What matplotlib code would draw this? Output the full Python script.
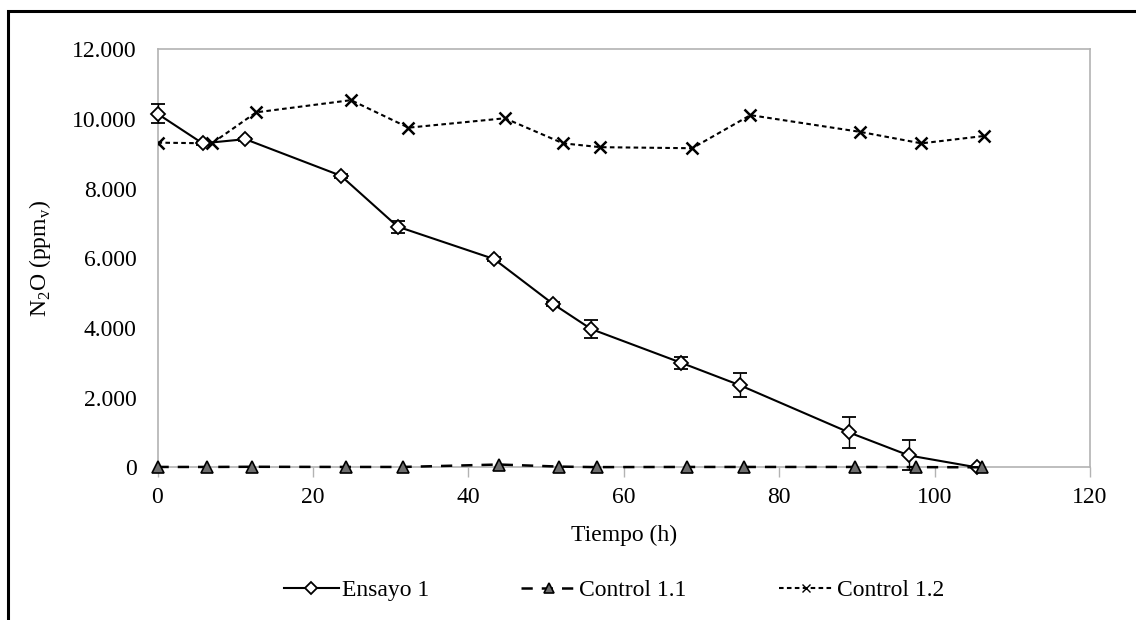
import matplotlib
matplotlib.use("Agg")
import matplotlib.pyplot as plt
from matplotlib.ticker import FuncFormatter, MultipleLocator
from matplotlib.patches import Rectangle
from matplotlib.lines import Line2D

plt.rcParams['font.family'] = ['Liberation Serif', 'DejaVu Serif']
plt.rcParams['mathtext.fontset'] = 'custom'
plt.rcParams['mathtext.rm'] = 'Liberation Serif'

# ---------------- data ----------------
ensayo_t = [0, 5.8, 11.3, 23.6, 30.9, 43.3, 50.9, 55.8, 67.4, 74.9, 89.0, 96.7, 105.4]
ensayo_y = [10150, 9300, 9420, 8370, 6910, 5980, 4690, 3970, 3000, 2360, 1000, 340, 0]
ensayo_err = [270, 40, 40, 60, 170, 60, 60, 260, 170, 355, 455, 430, 0]

ctrl11_t = [0, 6.4, 12.2, 24.3, 31.6, 43.9, 51.7, 56.5, 68.1, 75.5, 89.8, 97.6, 106.1]
ctrl11_y = [10, 10, 15, 10, 10, 80, 20, 5, 10, 10, 10, 5, 0]

ctrl12_t = [0, 7.0, 12.7, 24.9, 32.3, 44.7, 52.2, 57.0, 68.8, 76.3, 90.4, 98.3, 106.3]
ctrl12_y = [9320, 9300, 10190, 10540, 9750, 10020, 9300, 9190, 9160, 10110, 9630, 9300, 9510]

W, H = 1136, 620
fig = plt.figure(figsize=(W / 100, H / 100), dpi=100)
ax = fig.add_axes([157.5 / W, 1 - 467.3 / H, (1090 - 157.5) / W, (467.3 - 49.3) / H])

# outer frame (only top/left visible in the original crop)
fig.patches.append(Rectangle((8 / W, -0.2), 1.2, 1.2 - 11 / H,
                             transform=fig.transFigure, fill=False,
                             edgecolor='black', linewidth=2.2))

# --- styles ---
ens_style = dict(color='black', lw=1.5, ls='-', marker='D', mfc='white',
                 mec='black', mew=1.3)
c11_style = dict(color='black', lw=1.8, ls=(0, (4.5, 3.6)), marker='^',
                 mfc='#6e6e6e', mec='black', mew=1.2)
c12_style = dict(color='black', lw=1.5, ls=(0, (2.2, 1.6)), marker='x',
                 mew=1.8)

ax.errorbar(ensayo_t, ensayo_y, yerr=ensayo_err, ms=7, ecolor='black',
            elinewidth=1, capsize=5, capthick=1, zorder=3, clip_on=False,
            **ens_style)
ax.plot(ctrl11_t, ctrl11_y, ms=8, zorder=4, clip_on=False, **c11_style)
ax.plot(ctrl12_t, ctrl12_y, ms=9, zorder=3, **c12_style)

ax.set_xlim(0, 120)
ax.set_ylim(0, 12000)
ax.xaxis.set_major_locator(MultipleLocator(20))
ax.yaxis.set_major_locator(MultipleLocator(2000))
ax.yaxis.set_major_formatter(FuncFormatter(
    lambda v, p: '0' if v == 0 else f'{int(v):,}'.replace(',', '.')))

for s in ax.spines.values():
    s.set_color('#b3b3b3')
    s.set_linewidth(1.2)
    s.set_zorder(1)
ax.tick_params(axis='x', length=7, width=1, color='#b3b3b3', pad=7,
               labelsize=17)
ax.tick_params(axis='y', length=0, pad=15, labelsize=17)

ax.set_xlabel('Tiempo (h)', fontsize=17, labelpad=12)
ax.set_ylabel(r'N$_\mathregular{2}$O (ppm$_\mathregular{v}$)', fontsize=17,
              labelpad=14)

handles = [Line2D([], [], ms=6, **ens_style),
           Line2D([], [], ms=7, **c11_style),
           Line2D([], [], ms=6, **{**c12_style, 'mew': 1.0})]
fig.legend(handles, ['Ensayo 1', 'Control 1.1', 'Control 1.2'],
           loc='center', bbox_to_anchor=(614 / W, 1 - 590 / H), ncol=3,
           frameon=False, fontsize=17, handlelength=2.3, handletextpad=0.15,
           columnspacing=3.9)

fig.savefig('out.png', dpi=100)
print("[+] Saved out.png")
